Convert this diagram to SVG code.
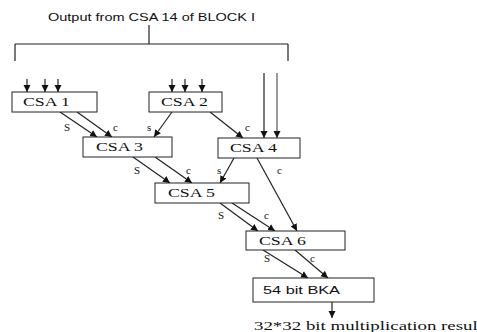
<svg xmlns="http://www.w3.org/2000/svg" width="477" height="332" viewBox="0 0 477 332">
<style>
.box{fill:#fff;stroke:#222;stroke-width:1}
.ln{stroke:#222;stroke-width:1.2;fill:none}
.ar{stroke:#222;stroke-width:1.2;fill:none;marker-end:url(#ah)}
.t{font-family:"Liberation Serif","Times New Roman",serif;font-size:13px;fill:#111}
.s{font-family:"Liberation Sans",Arial,sans-serif;font-size:11px;fill:#111}
.lb{font-family:"Liberation Serif","Times New Roman",serif;font-size:11px;fill:#111}
</style>
<defs>
<marker id="ah" markerWidth="8" markerHeight="8" refX="7" refY="4" orient="auto" markerUnits="userSpaceOnUse">
<path d="M0,0.5 L7,4 L0,7.5 Z" fill="#111"/>
</marker>
</defs>
<rect width="477" height="332" fill="#fff"/>
<g id="title">
<text class="s" x="48" y="21" textLength="207" lengthAdjust="spacingAndGlyphs">Output from CSA 14 of BLOCK I</text>
</g>
<g id="connectors">
<path class="ln" d="M149,25 V44 M15,44 H288 M15,44 V61 M288,44 V61"/>
<path class="ar" d="M27,79 V92"/>
<path class="ar" d="M45,79 V92"/>
<path class="ar" d="M58,79 V92"/>
<path class="ar" d="M172,79 V92"/>
<path class="ar" d="M185,79 V92"/>
<path class="ar" d="M202,79 V92"/>
<path class="ar" d="M264,73 V138"/>
<path class="ar" d="M277,73 V138" style="stroke:#555"/>
<path class="ar" d="M60,112 L97,137"/>
<path class="ar" d="M77,112 L112,137"/>
<path class="ar" d="M172,112 L154,137"/>
<path class="ar" d="M210,112 L243,138"/>
<path class="ar" d="M133,157 L170,183"/>
<path class="ar" d="M155,157 L192,183"/>
<path class="ar" d="M234,158 L220,183"/>
<path class="ar" d="M257,158 L297,231"/>
<path class="ar" d="M220,203 L258,231"/>
<path class="ar" d="M232,203 L275,231"/>
<path class="ar" d="M263,250 L308,278"/>
<path class="ar" d="M295,250 L328,278"/>
<path class="ar" d="M332,302 V318"/>
</g>
<g id="labels">
<text class="lb" x="64" y="131">S</text>
<text class="lb" x="113" y="131">c</text>
<text class="lb" x="147" y="131">s</text>
<text class="lb" x="245" y="131">c</text>
<text class="lb" x="134" y="174">S</text>
<text class="lb" x="186" y="174">c</text>
<text class="lb" x="217" y="174">s</text>
<text class="lb" x="277" y="174">c</text>
<text class="lb" x="218" y="219">S</text>
<text class="lb" x="264" y="219">c</text>
<text class="lb" x="264" y="262">S</text>
<text class="lb" x="310" y="262">c</text>
</g>
<g id="csa1"><rect class="box" x="12" y="92" width="85" height="20"/><text class="t" x="23" y="106" textLength="47" lengthAdjust="spacingAndGlyphs">CSA 1</text></g>
<g id="csa2"><rect class="box" x="149" y="92" width="73" height="20"/><text class="t" x="161" y="106" textLength="47" lengthAdjust="spacingAndGlyphs">CSA 2</text></g>
<g id="csa3"><rect class="box" x="83" y="137" width="89" height="20"/><text class="t" x="96" y="151" textLength="47" lengthAdjust="spacingAndGlyphs">CSA 3</text></g>
<g id="csa4"><rect class="box" x="218" y="138" width="82" height="20"/><text class="t" x="230" y="152" textLength="47" lengthAdjust="spacingAndGlyphs">CSA 4</text></g>
<g id="csa5"><rect class="box" x="155" y="183" width="94" height="20"/><text class="t" x="168" y="197" textLength="47" lengthAdjust="spacingAndGlyphs">CSA 5</text></g>
<g id="csa6"><rect class="box" x="246" y="231" width="99" height="19"/><text class="t" x="259" y="245" textLength="47" lengthAdjust="spacingAndGlyphs">CSA 6</text></g>
<g id="bka"><rect class="box" x="253" y="278" width="121" height="24"/><text class="s" x="263" y="294" textLength="77" lengthAdjust="spacingAndGlyphs">54 bit BKA</text></g>
<g id="result">
<text class="t" x="254" y="330" textLength="229" lengthAdjust="spacingAndGlyphs">32*32 bit multiplication result</text>
</g>
</svg>
